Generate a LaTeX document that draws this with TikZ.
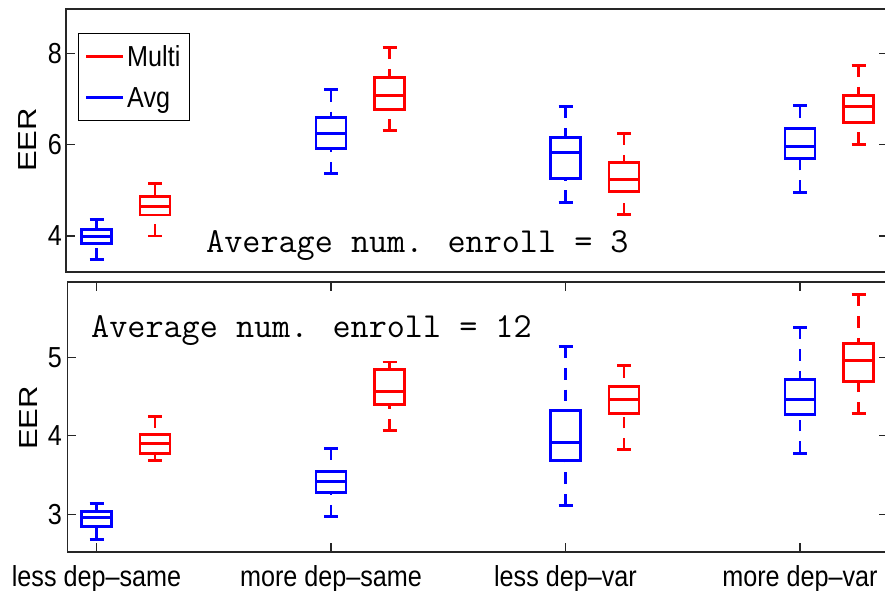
\documentclass[tikz,border=0pt]{standalone}
\usepackage{fontspec}
\usepackage{graphicx}
\setmainfont{Liberation Sans}[FakeStretch=0.87]
\newfontfamily\eerfont{Liberation Sans}
\usetikzlibrary{positioning}
\definecolor{avgblue}{RGB}{0,0,255}
\definecolor{multired}{RGB}{255,0,0}
\definecolor{axgray}{RGB}{38,38,38}
\newcommand{\plotfont}{\fontsize{24.7pt}{29pt}\selectfont}
\newcommand{\notefont}{\ttfamily\fontsize{30pt}{34pt}\selectfont}

% one box: x, colour, low whisker, q1, median, q3, high whisker
\newcommand{\eerbox}[7]{%
  \draw[whisk=#2] (#1,#7) -- (#1,#6);
  \draw[whisk=#2] (#1,#3) -- (#1,#4);
  \draw[boxln=#2] (#1-7,#7) -- (#1+7,#7);
  \draw[boxln=#2] (#1-7,#3) -- (#1+7,#3);
  \draw[boxln=#2] (#1-15,#4) rectangle (#1+15,#6);
  \draw[boxln=#2] (#1-15,#5) -- (#1+15,#5);
}

\begin{document}
\begin{tikzpicture}[x=0.03cm, y=0.03cm,
  boxln/.style={draw=#1, line width=2.5pt},
  whisk/.style={draw=#1, line width=2.5pt, dash pattern=on 10pt off 8.5pt},
  axln/.style={draw=axgray, line width=1.7pt},
  tickln/.style={draw=axgray, line width=0.9pt},
  ticklbl/.style={anchor=east, inner sep=0pt, font=\plotfont},
  catlbl/.style={anchor=base, inner sep=0pt, font=\plotfont},
  leglbl/.style={anchor=base west, inner sep=0pt, font=\plotfont},
  note/.style={anchor=base west, inner sep=0pt, font=\notefont},
  eer/.style={rotate=90, inner sep=0pt, font=\eerfont\fontsize{26.5pt}{30pt}\selectfont}
]
\useasboundingbox (0,0) rectangle (885,-591);

% top panel (3 enrolments)
\draw[axln] (66.3,-9) rectangle (888,-271.7);
\begin{scope}[shift={(0,-418.68)}, yscale=45.67]
  \foreach \v in {4,6,8} {
    \draw[tickln] (66.3,\v) -- (74.5,\v);
    \draw[tickln] (879,\v) -- (888,\v);
    \node[ticklbl] (ta\v) at (62,\v) {\v};
  }
  \eerbox{96.5}{avgblue}{3.48}{3.83}{3.98}{4.15}{4.37}
  \eerbox{155}{multired}{4.00}{4.46}{4.64}{4.86}{5.14}
  \eerbox{331}{avgblue}{5.36}{5.92}{6.25}{6.60}{7.20}
  \eerbox{389.5}{multired}{6.31}{6.77}{7.07}{7.47}{8.13}
  \eerbox{565.5}{avgblue}{4.74}{5.25}{5.82}{6.16}{6.83}
  \eerbox{624}{multired}{4.47}{4.97}{5.24}{5.61}{6.25}
  \eerbox{800}{avgblue}{4.96}{5.69}{5.96}{6.36}{6.85}
  \eerbox{858.5}{multired}{6.01}{6.48}{6.83}{7.07}{7.74}
\end{scope}
\node[eer] (eerA) at (27.5,-140) {\scalebox{1}[0.84]{EER}};
\node[note] (enr3) at (206,-252.7) {Average num. enroll = 3};

% legend
\draw[draw=black, line width=1.2pt, fill=white] (78.3,-33.3) rectangle (189.3,-120.7);
\node[leglbl] (multi) at (127,-66.7) {Multi};
\node[leglbl] (avg) at (127,-107.3) {Avg};
\draw[boxln=multired] (86,-56.7) -- (123.3,-56.7);
\draw[boxln=avgblue] (86,-97.7) -- (123.3,-97.7);

% bottom panel (12 enrolments)
\draw[axln] (67.5,-282) rectangle (888,-552);
\foreach \x in {96.5,331,565.5,800} {
  \draw[tickln] (\x,-282) -- (\x,-291);
  \draw[tickln] (\x,-552) -- (\x,-543);
}
\begin{scope}[shift={(0,-749.8)}, yscale=78.5]
  \foreach \v in {3,4,5} {
    \draw[tickln] (67.5,\v) -- (75.5,\v);
    \draw[tickln] (879,\v) -- (888,\v);
    \node[ticklbl] (tb\v) at (62,\v) {\v};
  }
  \eerbox{96.5}{avgblue}{2.68}{2.84}{2.96}{3.03}{3.14}
  \eerbox{155}{multired}{3.69}{3.78}{3.90}{4.02}{4.25}
  \eerbox{331}{avgblue}{2.97}{3.28}{3.42}{3.54}{3.84}
  \eerbox{389.5}{multired}{4.07}{4.40}{4.56}{4.84}{4.94}
  \eerbox{565.5}{avgblue}{3.11}{3.68}{3.92}{4.32}{5.14}
  \eerbox{624}{multired}{3.82}{4.29}{4.46}{4.63}{4.89}
  \eerbox{800}{avgblue}{3.78}{4.27}{4.46}{4.72}{5.38}
  \eerbox{858.5}{multired}{4.28}{4.69}{4.96}{5.17}{5.80}
\end{scope}
\node[eer] (eerB) at (28.3,-418) {\scalebox{1}[0.84]{EER}};
\node[note] (enr12) at (91,-337.3) {Average num. enroll = 12};

\node[catlbl] (c1) at (96.5,-586.5) {less dep–same};
\node[catlbl] (c2) at (331,-586.5) {more dep–same};
\node[catlbl] (c3) at (565.5,-586.5) {less dep–var};
\node[catlbl] (c4) at (800,-586.5) {more dep–var};
\end{tikzpicture}
\end{document}
